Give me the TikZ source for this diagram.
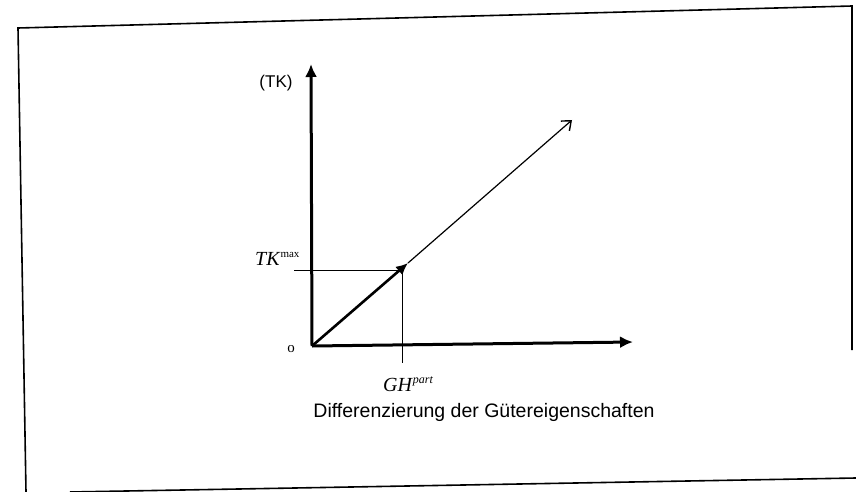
\documentclass[tikz,border=0pt]{standalone}
\usepackage{fontspec}
\setmainfont{Liberation Sans}
\newfontfamily\timesf{Liberation Serif}
\usetikzlibrary{arrows.meta}
\begin{document}
\begin{tikzpicture}[x=1pt,y=-1pt,
  frameline/.style={line width=1.6pt,black},
  axisline/.style={line width=3pt,-{Latex[length=13pt,width=12pt]}},
  thickvec/.style={line width=2.6pt,-{Latex[length=12pt,width=11pt]}},
  thinvec/.style={line width=1.2pt,-{Straight Barb[length=8pt,width=13pt,line width=1.4pt]}},
  guide/.style={line width=1pt},
  lbl/.style={inner sep=0pt,font=\fontsize{17}{19}\selectfont},
  mathlbl/.style={inner sep=0pt,font=\timesf\fontsize{20}{22}\selectfont}]
\useasboundingbox (0,0) rectangle (856,492);
% frame
\coordinate (F1) at (18,28);
\coordinate (F2) at (852,6);
\coordinate (F3) at (852,350);
\coordinate (F4) at (26,492);
\coordinate (F5) at (70,492);
\coordinate (F6) at (856,478);
\draw[frameline] (F4) -- (F1) -- (F2) -- (F3);
\draw[frameline] (F5) -- (F6);
% axes
\coordinate (O) at (312,346);
\coordinate (Yt) at (311,64);
\coordinate (Xt) at (633,342);
\draw[axisline] (O) -- (Yt);
\draw[axisline] (O) -- (Xt);
% guides
\coordinate (Tl) at (294,270);
\coordinate (P) at (402,270);
\coordinate (Pb) at (402,363);
\draw[guide] (Tl) -- (P);
\draw[guide] (P) -- (Pb);
% vectors
\coordinate (V1) at (408,263);
\coordinate (V2) at (572,120);
\draw[thickvec] (O) -- (V1);
\draw[thinvec] (V1) -- (V2);
% labels
\node[lbl] (tk) at (276,83) {(TK)};
\node[inner sep=0pt,font=\timesf\fontsize{15}{17}\selectfont] (zero) at (291,349) {o};
\node[mathlbl,anchor=base west] (tkmax) at (255,265) {\textit{TK}\raisebox{0.4em}{\fontsize{11}{12}\selectfont max}};
\node[mathlbl,anchor=base west] (gh) at (383,391) {\textit{GH}\raisebox{0.4em}{\fontsize{12}{13}\selectfont\textit{part}}};
\node[lbl,font=\fontsize{19.5}{21}\selectfont] (cap) at (484,412) {Differenzierung der Gütereigenschaften};
\end{tikzpicture}
\end{document}
